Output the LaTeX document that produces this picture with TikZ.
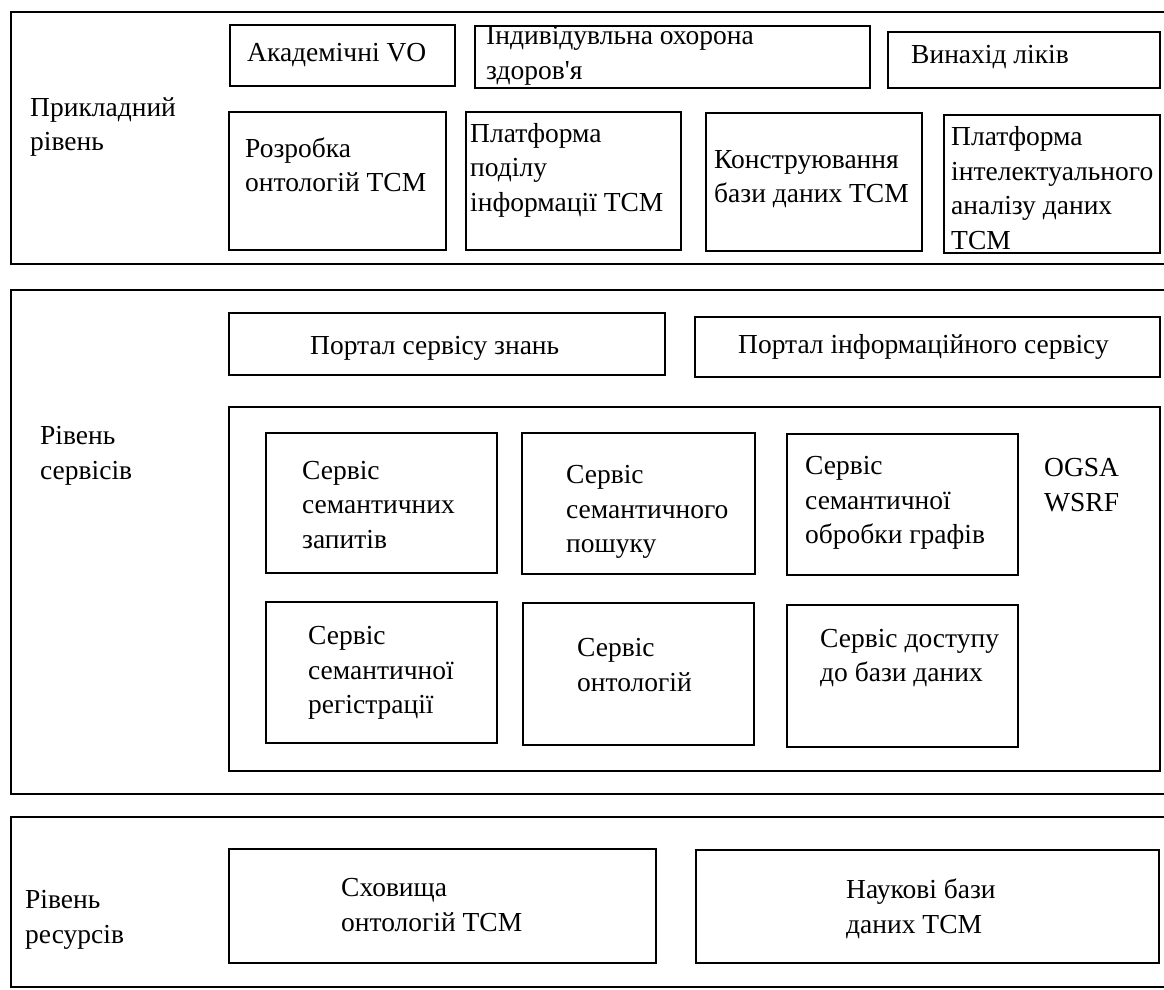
\documentclass[tikz,border=0pt]{standalone}
\usepackage{fontspec}
\setmainfont{Liberation Serif}
\tikzset{
  box/.style={draw=black, line width=2.6pt, rectangle, inner sep=0pt, fill=none},
  txt/.style={align=left, inner sep=0pt, anchor=west, font=\fontsize{27.5}{34.5}\selectfont},
}
\newcommand{\bx}[5]{\node[box, minimum width={#4-#2}, minimum height={#5-#3}] (#1) at ({(#2+#4)/2},{(#3+#5)/2}) {};}
\begin{document}
\begin{tikzpicture}[x=1pt,y=-1pt]
\useasboundingbox (0,0) rectangle (1164,990);
\begin{scope}
\clip (0,0) rectangle (1164,990);
% panels (right edges run off the page)
\bx{p1}{11}{12}{1180}{264}
\bx{p2}{11}{290}{1180}{794}
\bx{p3}{11}{817}{1180}{987}
\end{scope}
% level 1
\node[txt] (l1) at (30,127) {Прикладний\\рівень};
\bx{a1}{230}{25}{455}{86}
\node[txt] (ta1) at (247,55) {Академічні VO};
\bx{a2}{475}{26}{870}{88}
\node[txt] (ta2) at (486,56) {Індивідувльна охорона\\здоров\textquotesingle я};
\bx{a3}{888}{32}{1160}{88}
\node[txt] (ta3) at (911,57) {Винахід ліків};
\bx{b1}{229}{112}{446}{250}
\node[txt] (tb1) at (245,165) {Розробка\\онтологій TCM};
\bx{b2}{466}{112}{681}{250}
\node[txt] (tb2) at (470,170) {Платформа\\поділу\\інформації TCM};
\bx{b3}{706}{113}{922}{251}
\node[txt] (tb3) at (714,179) {Конструювання\\бази даних TCM};
\bx{b4}{944}{115}{1160}{253}
\node[txt] (tb4) at (951,188) {Платформа\\інтелектуального\\аналізу даних\\TCM};
% level 2
\node[txt] (l2) at (40,456) {Рівень\\сервісів};
\bx{c1}{229}{313}{665}{375}
\node[txt] (tc1) at (310,348) {Портал сервісу знань};
\bx{c2}{695}{317}{1160}{377}
\node[txt] (tc2) at (738,347) {Портал інформаційного сервісу};
\bx{dd}{229}{407}{1160}{771}
\bx{d1}{266}{433}{497}{573}
\node[txt] (td1) at (302,505) {Сервіс\\семантичних\\запитів};
\bx{d2}{522}{433}{755}{574}
\node[txt] (td2) at (566,512) {Сервіс\\семантичного\\пошуку};
\bx{d3}{787}{434}{1018}{575}
\node[txt] (td3) at (805,503) {Сервіс\\семантичної\\обробки графів};
\node[txt] (og) at (1044,485) {OGSA\\WSRF};
\bx{d4}{266}{602}{497}{743}
\node[txt] (td4) at (308,673) {Сервіс\\семантичної\\регістрації};
\bx{d5}{523}{603}{754}{745}
\node[txt] (td5) at (577,665) {Сервіс\\онтологій};
\bx{d6}{787}{605}{1018}{747}
\node[txt] (td6) at (820,658) {Сервіс доступу\\до бази даних};
% level 3
\node[txt] (l3) at (25,920) {Рівень\\ресурсів};
\bx{e1}{229}{849}{656}{963}
\node[txt] (te1) at (341,905) {Сховища\\онтологій TCM};
\bx{e2}{696}{850}{1159}{963}
\node[txt] (te2) at (846,909) {Наукові бази\\даних TCM};
\end{tikzpicture}
\end{document}
